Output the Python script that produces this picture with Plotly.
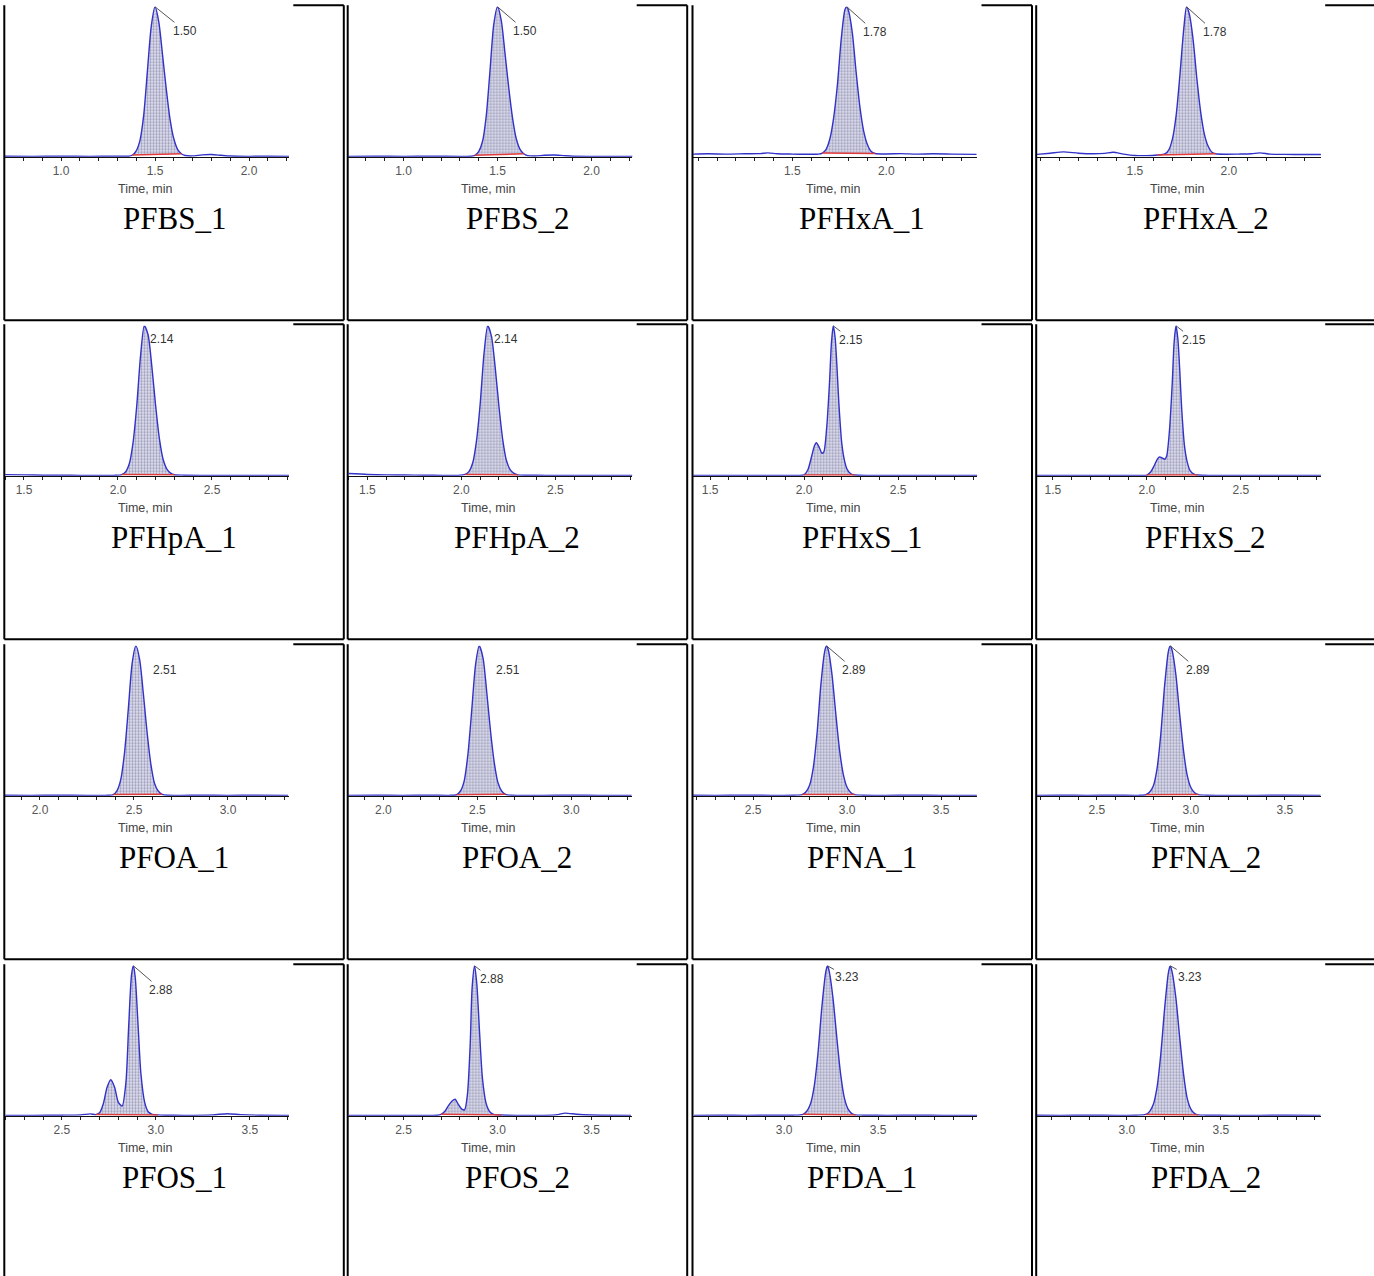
import plotly.graph_objects as go

W, H = 1374, 1276

# ---------------- data ----------------
panel_names = ["PFBS_1", "PFBS_2", "PFHxA_1", "PFHxA_2",
               "PFHpA_1", "PFHpA_2", "PFHxS_1", "PFHxS_2",
               "PFOA_1", "PFOA_2", "PFNA_1", "PFNA_2",
               "PFOS_1", "PFOS_2", "PFDA_1", "PFDA_2"]
rt_labels = ["1.50", "1.50", "1.78", "1.78",
             "2.14", "2.14", "2.15", "2.15",
             "2.51", "2.51", "2.89", "2.89",
             "2.88", "2.88", "3.23", "3.23"]

# time axis range start (min) of each panel
x_start = [0.702, 0.707, 0.973, 0.979,
           1.399, 1.399, 1.410, 1.415,
           1.814, 1.814, 2.181, 2.181,
           2.197, 2.207, 2.516, 2.521]

t_PFBS_1 = [0.70, 0.85, 1.00, 1.15, 1.30, 1.36, 1.38, 1.40, 1.42, 1.44, 1.46, 1.48, 1.50, 1.52, 1.54,
            1.56, 1.58, 1.60, 1.62, 1.64, 1.66, 1.70, 1.75, 1.80, 1.85, 1.90, 2.00, 2.10, 2.22]
i_PFBS_1 = [0.4, 0.3, 0.4, 0.3, 0.4, 0.4, 1.2, 4, 11, 28, 58, 87, 100, 90, 68,
            45, 25, 12, 5, 2, 0.9, 0.6, 1.3, 1.5, 1.0, 0.5, 0.3, 0.4, 0.3]
t_PFBS_2 = [0.70, 0.85, 1.00, 1.15, 1.30, 1.36, 1.38, 1.40, 1.42, 1.44, 1.46, 1.48, 1.50, 1.52, 1.54,
            1.56, 1.58, 1.60, 1.62, 1.64, 1.66, 1.70, 1.75, 1.80, 1.85, 1.90, 2.00, 2.10, 2.22]
i_PFBS_2 = [0.3, 0.4, 0.3, 0.4, 0.3, 0.4, 1.0, 3.5, 10, 27, 57, 88, 100, 91, 69,
            46, 26, 12, 5, 2, 0.8, 0.5, 1.0, 1.2, 0.8, 0.4, 0.3, 0.3, 0.3]

t_PFHxA_1 = [0.97, 1.05, 1.15, 1.25, 1.33, 1.37, 1.42, 1.50, 1.58, 1.64, 1.66, 1.68, 1.70, 1.72, 1.74, 1.76,
             1.78, 1.79, 1.80, 1.82, 1.84, 1.86, 1.88, 1.90, 1.92, 1.94, 2.00, 2.08, 2.16, 2.25, 2.35, 2.48]
i_PFHxA_1 = [1.8, 2.0, 1.8, 2.0, 2.1, 2.6, 2.0, 1.8, 1.7, 1.8, 2.5, 5, 12, 26, 48, 78,
             98, 100, 97, 82, 56, 33, 17, 8, 3.5, 2.2, 1.9, 2.1, 1.8, 2.0, 1.8, 1.6]
t_PFHxA_2 = [0.98, 1.05, 1.12, 1.20, 1.28, 1.34, 1.385, 1.44, 1.50, 1.56, 1.62, 1.66, 1.68, 1.70, 1.72, 1.74,
             1.76, 1.775, 1.79, 1.81, 1.83, 1.85, 1.87, 1.89, 1.91, 1.93, 1.98, 2.05, 2.12, 2.165, 2.22, 2.30,
             2.40, 2.49]
i_PFHxA_2 = [1.6, 2.4, 3.3, 2.4, 2.0, 2.3, 3.0, 1.8, 0.9, 0.8, 1.2, 2.0, 4.5, 12, 28, 55,
             85, 100, 95, 78, 52, 30, 15, 7, 3, 2, 1.7, 1.8, 2.0, 2.6, 1.8, 1.6,
             1.5, 1.5]

t_PFHpA_1 = [1.40, 1.50, 1.60, 1.70, 1.80, 1.90, 1.98, 2.02, 2.04, 2.06, 2.08, 2.10, 2.12, 2.14, 2.16,
             2.18, 2.20, 2.22, 2.24, 2.26, 2.28, 2.30, 2.35, 2.45, 2.60, 2.75, 2.91]
i_PFHpA_1 = [0.8, 0.6, 0.4, 0.4, 0.3, 0.3, 0.3, 0.8, 2.5, 8, 22, 47, 80, 100, 94,
             73, 47, 25, 11, 4.5, 1.8, 0.7, 0.4, 0.3, 0.3, 0.3, 0.3]
t_PFHpA_2 = [1.40, 1.50, 1.60, 1.70, 1.80, 1.90, 1.98, 2.02, 2.04, 2.06, 2.08, 2.10, 2.12, 2.14, 2.16,
             2.18, 2.20, 2.22, 2.24, 2.26, 2.28, 2.30, 2.35, 2.45, 2.60, 2.75, 2.91]
i_PFHpA_2 = [1.5, 0.9, 0.6, 0.5, 0.4, 0.3, 0.3, 0.9, 2.8, 8.5, 23, 48, 81, 100, 93,
             72, 46, 24, 10, 4, 1.6, 0.6, 0.4, 0.3, 0.3, 0.3, 0.3]

t_PFHxS_1 = [1.41, 1.60, 1.80, 1.95, 2.00, 2.02, 2.04, 2.055, 2.065, 2.08, 2.095, 2.105, 2.12, 2.135,
             2.145, 2.155, 2.165, 2.175, 2.185, 2.20, 2.215, 2.23, 2.25, 2.27, 2.35, 2.50, 2.70, 2.93]
i_PFHxS_1 = [0.3, 0.3, 0.3, 0.3, 0.6, 4, 13, 20, 22, 19, 15, 16, 32, 62,
             88, 100, 92, 72, 48, 22, 10, 4, 1.2, 0.5, 0.3, 0.3, 0.3, 0.3]
t_PFHxS_2 = [1.41, 1.60, 1.80, 1.95, 2.00, 2.02, 2.04, 2.055, 2.065, 2.08, 2.095, 2.105, 2.12, 2.135,
             2.145, 2.155, 2.165, 2.175, 2.185, 2.20, 2.215, 2.23, 2.25, 2.27, 2.35, 2.50, 2.70, 2.93]
i_PFHxS_2 = [0.3, 0.3, 0.3, 0.3, 0.5, 2.5, 7, 11, 12.5, 12, 11, 13, 30, 62,
             89, 100, 91, 70, 45, 20, 9, 3.5, 1.1, 0.5, 0.3, 0.3, 0.3, 0.3]

t_PFOA_1 = [1.81, 1.95, 2.10, 2.25, 2.35, 2.39, 2.41, 2.43, 2.45, 2.47, 2.49, 2.51, 2.53, 2.55, 2.57,
            2.59, 2.61, 2.63, 2.65, 2.68, 2.75, 2.85, 3.00, 3.15, 3.32]
i_PFOA_1 = [0.4, 0.3, 0.4, 0.3, 0.3, 0.8, 3.5, 11, 29, 58, 88, 100, 91, 68, 42,
            21, 8, 3, 1, 0.4, 0.3, 0.4, 0.3, 0.4, 0.3]
t_PFOA_2 = [1.81, 1.95, 2.10, 2.25, 2.35, 2.39, 2.41, 2.43, 2.45, 2.47, 2.49, 2.51, 2.53, 2.55, 2.57,
            2.59, 2.61, 2.63, 2.65, 2.68, 2.75, 2.85, 3.00, 3.15, 3.32]
i_PFOA_2 = [0.3, 0.4, 0.3, 0.4, 0.3, 0.7, 3.2, 10, 28, 57, 87, 100, 92, 69, 43,
            22, 8.5, 3, 1, 0.4, 0.3, 0.3, 0.4, 0.3, 0.3]

t_PFNA_1 = [2.18, 2.30, 2.45, 2.60, 2.72, 2.76, 2.78, 2.80, 2.82, 2.84, 2.86, 2.88, 2.89, 2.90, 2.92,
            2.94, 2.96, 2.98, 3.00, 3.02, 3.04, 3.08, 3.20, 3.35, 3.50, 3.69]
i_PFNA_1 = [0.4, 0.3, 0.4, 0.3, 0.4, 0.8, 2.5, 7, 19, 42, 74, 96, 100, 97, 80,
            54, 30, 14, 5.5, 2, 0.8, 0.4, 0.3, 0.4, 0.3, 0.3]
t_PFNA_2 = [2.18, 2.30, 2.45, 2.60, 2.72, 2.76, 2.78, 2.80, 2.82, 2.84, 2.86, 2.88, 2.89, 2.90, 2.92,
            2.94, 2.96, 2.98, 3.00, 3.02, 3.04, 3.08, 3.20, 3.35, 3.50, 3.69]
i_PFNA_2 = [0.3, 0.4, 0.3, 0.4, 0.3, 0.7, 2.3, 6.5, 18, 41, 73, 96, 100, 97, 81,
            55, 31, 14, 5.5, 2, 0.8, 0.4, 0.3, 0.3, 0.4, 0.3]

t_PFOS_1 = [2.20, 2.35, 2.50, 2.60, 2.65, 2.68, 2.70, 2.72, 2.74, 2.76, 2.78, 2.80, 2.82, 2.84, 2.855,
            2.87, 2.88, 2.89, 2.905, 2.92, 2.94, 2.96, 2.98, 3.01, 3.05, 3.15, 3.30, 3.38, 3.45, 3.55, 3.71]
i_PFOS_1 = [0.3, 0.3, 0.4, 0.6, 1.3, 0.8, 2, 8, 19, 24, 19, 9, 6.5, 22, 60,
            94, 100, 92, 60, 28, 9, 2.5, 1.0, 0.6, 0.4, 0.3, 0.6, 1.4, 0.8, 0.4, 0.3]
t_PFOS_2 = [2.21, 2.35, 2.50, 2.62, 2.68, 2.70, 2.72, 2.74, 2.76, 2.775, 2.79, 2.81, 2.825, 2.84, 2.855,
            2.865, 2.878, 2.89, 2.905, 2.92, 2.94, 2.96, 2.98, 3.02, 3.10, 3.25, 3.32, 3.36, 3.42, 3.50, 3.71]
i_PFOS_2 = [0.3, 0.3, 0.3, 0.3, 0.4, 1.0, 3, 7, 10, 11, 8, 4.5, 4, 14, 48,
            85, 100, 88, 55, 25, 8, 2.5, 1, 0.5, 0.3, 0.3, 0.8, 1.8, 1.0, 0.5, 0.3]

t_PFDA_1 = [2.52, 2.65, 2.80, 2.95, 3.05, 3.10, 3.12, 3.14, 3.16, 3.18, 3.20, 3.22, 3.23, 3.24, 3.26,
            3.28, 3.30, 3.32, 3.34, 3.36, 3.38, 3.42, 3.55, 3.70, 3.85, 4.03]
i_PFDA_1 = [0.3, 0.4, 0.3, 0.4, 0.4, 1, 3, 8, 20, 42, 72, 95, 100, 96, 78,
            52, 28, 12, 4.5, 1.5, 0.6, 0.4, 0.3, 0.4, 0.3, 0.3]
t_PFDA_2 = [2.52, 2.65, 2.80, 2.95, 3.05, 3.10, 3.12, 3.14, 3.16, 3.18, 3.20, 3.22, 3.23, 3.24, 3.26,
            3.28, 3.30, 3.32, 3.34, 3.36, 3.38, 3.42, 3.55, 3.70, 3.85, 4.03]
i_PFDA_2 = [0.4, 0.3, 0.4, 0.3, 0.4, 0.9, 2.8, 7.5, 19, 41, 71, 95, 100, 96, 79,
            53, 29, 12, 4.5, 1.5, 0.6, 0.4, 0.3, 0.3, 0.4, 0.3]

times = [t_PFBS_1, t_PFBS_2, t_PFHxA_1, t_PFHxA_2, t_PFHpA_1, t_PFHpA_2, t_PFHxS_1, t_PFHxS_2,
         t_PFOA_1, t_PFOA_2, t_PFNA_1, t_PFNA_2, t_PFOS_1, t_PFOS_2, t_PFDA_1, t_PFDA_2]
intens = [i_PFBS_1, i_PFBS_2, i_PFHxA_1, i_PFHxA_2, i_PFHpA_1, i_PFHpA_2, i_PFHxS_1, i_PFHxS_2,
          i_PFOA_1, i_PFOA_2, i_PFNA_1, i_PFNA_2, i_PFOS_1, i_PFOS_2, i_PFDA_1, i_PFDA_2]
# integration limits (min)
peak_start = [1.38, 1.38, 1.66, 1.62, 2.02, 2.02, 2.00, 2.00,
              2.39, 2.39, 2.76, 2.76, 2.68, 2.70, 3.10, 3.10]
peak_end = [1.64, 1.64, 1.94, 1.93, 2.30, 2.30, 2.27, 2.27,
            2.65, 2.65, 3.04, 3.04, 3.01, 3.02, 3.38, 3.38]
major_step = 0.5
minor_step = 0.1

# ---------------- layout geometry (pixels) ----------------
cell_left = [4.3, 347.7, 692.5, 1036.2]
cell_top = [5.3, 324.3, 644.3, 964.3]
cell_w, cell_h = 339.5, 315
plot_w = 284
px_per_min = 188.0
axis_off = 151.5
plot_h = 150
edge_px = 12
label_off = [(30, 24), (28, 24), (28, 25), (28, 25),
             (18, 13), (18, 13), (18, 14), (18, 14),
             (29, 24), (29, 24), (28, 24), (28, 24),
             (28, 24), (17, 13), (20, 11), (20, 11)]


def PX(px):
    return px / W


def PY(py):
    return 1 - py / H


fig = go.Figure()
shapes, annotations = [], []
layout = {}
LINE_BLUE = "#3232c8"

for k in range(16):
    r, c = divmod(k, 4)
    L, T = cell_left[c], cell_top[r]
    x0 = L + 0.7
    x1 = x0 + plot_w
    yb = T + axis_off
    yt = yb - plot_h
    sfx = "" if k == 0 else str(k + 1)
    xa, ya = "x" + sfx, "y" + sfx
    lo = x_start[k]
    hi = lo + plot_w / px_per_min
    margin_min = edge_px / px_per_min
    n0 = int(lo / major_step) - 1
    n1 = int(hi / major_step) + 2
    tv = [round(n * major_step, 2) for n in range(n0, n1)
          if lo + margin_min <= n * major_step <= hi - margin_min]
    layout["xaxis" + sfx] = dict(
        domain=[PX(x0), PX(x1)], anchor=ya,
        range=[lo, hi],
        showline=True, linecolor="#111", linewidth=1.3,
        ticks="outside", ticklen=3, tickwidth=1, tickcolor="#222",
        tickmode="array", tickvals=tv, ticktext=[f"{v:.1f}" for v in tv],
        minor=dict(tickmode="linear", tick0=0, dtick=minor_step, ticks="outside", ticklen=3,
                   tickcolor="#222", tickwidth=1, showgrid=False),
        showgrid=False, zeroline=False, fixedrange=True,
        tickfont=dict(family="Liberation Sans, Arial", size=12, color="#555"),
    )
    layout["yaxis" + sfx] = dict(domain=[PY(yb), PY(yt)], anchor=xa, range=[0, 100],
                                 visible=False, fixedrange=True)

    t, v = times[k], intens[k]
    i0, i1 = t.index(peak_start[k]), t.index(peak_end[k])
    # integration baseline (reference for fill)
    fig.add_trace(go.Scatter(x=[t[i0], t[i1]], y=[v[i0], v[i1]], mode="lines",
                             line=dict(width=0, color="rgba(0,0,0,0)"),
                             xaxis=xa, yaxis=ya, hoverinfo="skip", showlegend=False))
    # dotted peak area
    fig.add_trace(go.Scatter(x=t[i0:i1 + 1], y=v[i0:i1 + 1], mode="lines",
                             line=dict(width=0, color=LINE_BLUE, shape="spline", smoothing=0.7),
                             fill="tonexty", fillcolor="#dcdcea",
                             fillpattern=dict(shape=".", fgcolor="#5c5c8c", bgcolor="#e0e0ee",
                                              size=3, solidity=0.45),
                             xaxis=xa, yaxis=ya, hoverinfo="skip", showlegend=False))
    # chromatogram
    fig.add_trace(go.Scatter(x=t, y=v, mode="lines",
                             line=dict(color=LINE_BLUE, width=1.4, shape="spline", smoothing=0.7),
                             xaxis=xa, yaxis=ya, showlegend=False, name=panel_names[k]))
    # red integration baseline
    fig.add_trace(go.Scatter(x=[t[i0], t[i1]], y=[v[i0], v[i1]], mode="lines",
                             line=dict(color="#e03a3a", width=1.5),
                             xaxis=xa, yaxis=ya, hoverinfo="skip", showlegend=False))

    imax = v.index(max(v))
    annotations.append(dict(x=t[imax], y=v[imax], xref=xa, yref=ya, text=rt_labels[k],
                            showarrow=True, arrowhead=0, arrowwidth=1, arrowcolor="#555",
                            ax=label_off[k][0], ay=label_off[k][1], standoff=0,
                            font=dict(family="Liberation Sans, Arial", size=12, color="#333")))
    annotations.append(dict(x=PX((x0 + x1) / 2 - 2), y=PY(yb + 32), xref="paper", yref="paper",
                            text="Time, min", showarrow=False, xanchor="center", yanchor="middle",
                            font=dict(family="Liberation Sans, Arial", size=12.5, color="#444")))
    annotations.append(dict(x=PX(L + cell_w / 2), y=PY(T + 213), xref="paper", yref="paper",
                            text=panel_names[k], showarrow=False, xanchor="center", yanchor="middle",
                            font=dict(family="Liberation Serif, Times New Roman", size=31, color="#000")))

    bl = dict(color="#000", width=2)
    shapes += [
        dict(type="line", xref="paper", yref="paper", x0=PX(L), x1=PX(L), y0=PY(T), y1=PY(T + cell_h), line=bl),
        dict(type="line", xref="paper", yref="paper", x0=PX(L + cell_w), x1=PX(L + cell_w), y0=PY(T), y1=PY(T + cell_h), line=bl),
        dict(type="line", xref="paper", yref="paper", x0=PX(L), x1=PX(L + cell_w), y0=PY(T + cell_h), y1=PY(T + cell_h), line=bl),
        dict(type="line", xref="paper", yref="paper", x0=PX(L + 289), x1=PX(L + cell_w), y0=PY(T), y1=PY(T), line=bl),
    ]

fig.update_layout(width=W, height=H, margin=dict(l=0, r=0, t=0, b=0),
                  paper_bgcolor="white", plot_bgcolor="white",
                  shapes=shapes, annotations=annotations, showlegend=False, **layout)

fig.write_html("out.html", config={"displayModeBar": False},
               post_script="document.body.style.margin='0';document.body.style.overflow='hidden';")
